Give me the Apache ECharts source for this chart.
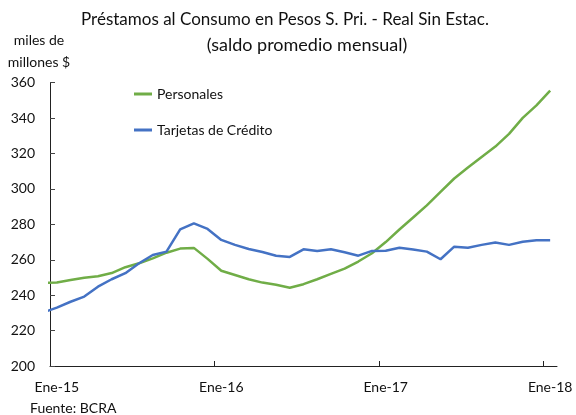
<!DOCTYPE html>
<html>
<head>
<meta charset="utf-8">
<script src="https://cdn.jsdelivr.net/npm/echarts@6/dist/echarts.min.js"></script>
<style>
  html, body { margin: 0; padding: 0; background: #fff; }
  #chart { width: 576px; height: 415px; }
</style>
</head>
<body>
<div id="chart"></div>
<script>
// Meses (Dic-14 .. Ene-18); Dic-14 queda recortado por el eje
const meses = ['Dic-14',
               'Ene-15','Feb-15','Mar-15','Abr-15','May-15','Jun-15','Jul-15','Ago-15','Sep-15','Oct-15','Nov-15','Dic-15',
               'Ene-16','Feb-16','Mar-16','Abr-16','May-16','Jun-16','Jul-16','Ago-16','Sep-16','Oct-16','Nov-16','Dic-16',
               'Ene-17','Feb-17','Mar-17','Abr-17','May-17','Jun-17','Jul-17','Ago-17','Sep-17','Oct-17','Nov-17','Dic-17',
               'Ene-18'];
const personales = [247.0,
                    247.2, 248.6, 249.9, 250.7, 252.5, 255.8, 258.0, 260.8, 264.0, 266.3, 266.7, 260.5,
                    253.8, 251.4, 249.0, 247.1, 245.9, 244.2, 246.2, 249.0, 252.0, 255.0, 259.0, 263.7,
                    270.0, 277.1, 283.9, 290.7, 298.3, 305.9, 312.1, 318.1, 323.9, 331.1, 340.1, 347.2,
                    355.5];
const tarjetas = [230.2,
                  233.0, 236.3, 239.2, 244.8, 249.0, 252.4, 258.0, 262.7, 264.6, 277.2, 280.6, 277.4,
                  271.2, 268.4, 266.1, 264.4, 262.3, 261.6, 265.9, 265.0, 265.9, 264.2, 262.3, 265.0,
                  265.1, 266.8, 265.8, 264.6, 260.3, 267.4, 266.8, 268.4, 269.7, 268.4, 270.2, 271.0,
                  271.0];
const etiquetasX = ['Ene-15', 'Ene-16', 'Ene-17', 'Ene-18'];
const yMin = 200, yMax = 360, yPaso = 20;

const fuente = 'Lato, "Noto Sans", sans-serif';

// cada punto se ubica a mitad de mes; el primero (Dic-14) cae antes del eje
function serie(valores) {
    return valores.map(function(v, i) { return [i - 0.5, v]; });
}

const chart = echarts.init(document.getElementById('chart'));
chart.setOption({
    animation: false,
    textStyle: { fontFamily: fuente },
    grid: { left: 50, right: 19, top: 82.7, bottom: 49, containLabel: false },
    graphic: [
        { type: 'text', left: 38, top: -12, style: { text: 'Gráfico 3.3', font: 'bold 15px ' + fuente, fill: '#777' } },
        { type: 'text', x: 285, y: 20, style: { text: 'Préstamos al Consumo en Pesos S. Pri. - Real Sin Estac.', font: '17px ' + fuente, fill: '#111', align: 'center', verticalAlign: 'middle' } },
        { type: 'text', x: 307, y: 45, style: { text: '(saldo promedio mensual)', font: '18px ' + fuente, fill: '#111', align: 'center', verticalAlign: 'middle' } },
        { type: 'text', x: 39, y: 40, style: { text: 'miles de', font: '14px ' + fuente, fill: '#111', align: 'center', verticalAlign: 'middle' } },
        { type: 'text', x: 39, y: 62, style: { text: 'millones $', font: '14px ' + fuente, fill: '#111', align: 'center', verticalAlign: 'middle' } },
        { type: 'text', x: 30, y: 408, style: { text: 'Fuente: BCRA', font: '14px ' + fuente, fill: '#111', verticalAlign: 'middle' } }
    ],
    legend: {
        orient: 'vertical',
        left: 129,
        top: 82,
        icon: 'rect',
        itemWidth: 18,
        itemHeight: 3,
        itemGap: 22,
        textStyle: { fontSize: 14, color: '#111', fontFamily: fuente },
        data: ['Personales', 'Tarjetas de Crédito']
    },
    xAxis: {
        type: 'value',
        min: 0,
        max: 37,
        splitLine: { show: false },
        axisLine: { lineStyle: { color: '#222', width: 1 } },
        axisTick: { inside: true, length: 5, lineStyle: { color: '#222' }, customValues: [0, 12, 24, 36] },
        axisLabel: {
            customValues: [0.5, 12.5, 24.5, 36.5],
            margin: 14,
            fontSize: 14,
            color: '#111',
            formatter: function(v) { return etiquetasX[Math.round((v - 0.5) / 12)]; }
        }
    },
    yAxis: {
        type: 'value',
        min: yMin,
        max: yMax,
        interval: yPaso,
        splitLine: { show: false },
        axisLine: { show: true, lineStyle: { color: '#222', width: 1 } },
        axisTick: { show: true, inside: true, length: 5, lineStyle: { color: '#444' } },
        axisLabel: { fontSize: 14, color: '#111', margin: 15 }
    },
    series: [
        {
            name: 'Personales',
            type: 'line',
            data: serie(personales),
            clip: true,
            showSymbol: false,
            lineStyle: { color: '#70AD47', width: 2.5 },
            itemStyle: { color: '#70AD47' }
        },
        {
            name: 'Tarjetas de Crédito',
            type: 'line',
            data: serie(tarjetas),
            clip: true,
            showSymbol: false,
            lineStyle: { color: '#4472C4', width: 2.5 },
            itemStyle: { color: '#4472C4' }
        }
    ]
});
</script>
</body>
</html>
